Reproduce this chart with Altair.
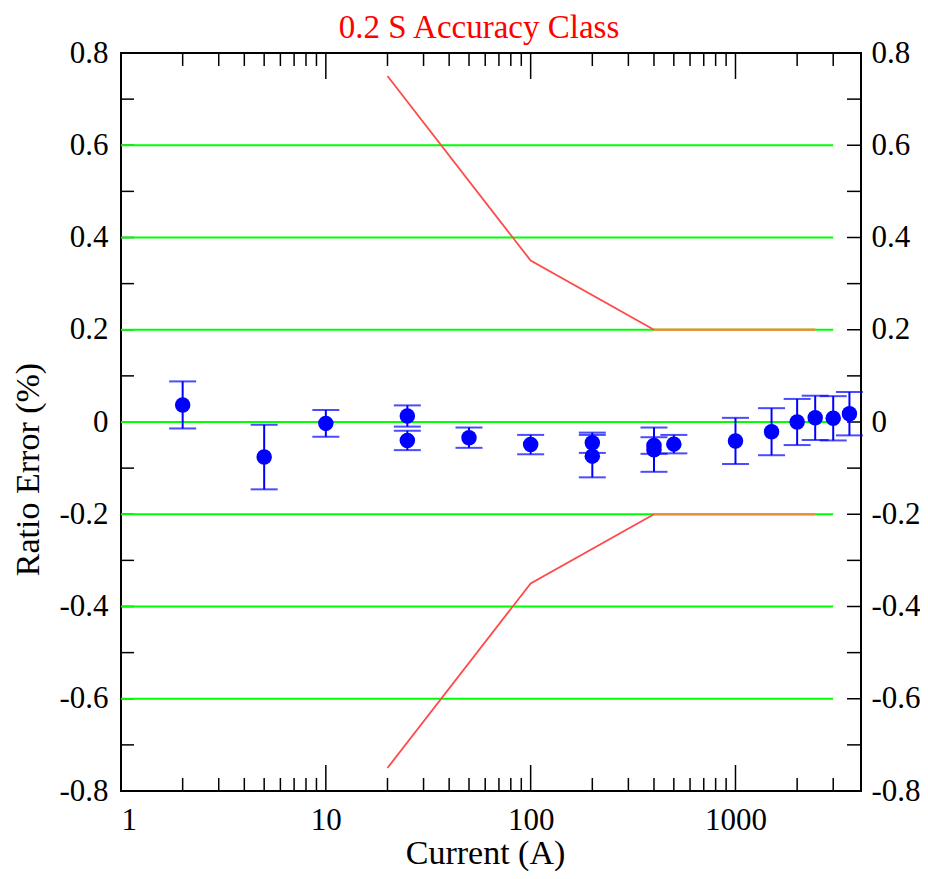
import altair as alt
import pandas as pd

# ---- data ----
chart_title = "0.2 S Accuracy Class"
current = [2, 5, 10, 25, 25, 50, 100, 200, 200, 400, 400, 500, 1000, 1500, 2000, 2450, 3000, 3600]
ratio_err = [0.037, -0.076, -0.003, 0.013, -0.040, -0.034, -0.049, -0.045, -0.074, -0.060, -0.051,
             -0.048, -0.041, -0.021, 0.000, 0.009, 0.008, 0.018]
unc = [0.051, 0.070, 0.029, 0.023, 0.021, 0.022, 0.021, 0.022, 0.046, 0.048, 0.018,
       0.020, 0.050, 0.051, 0.050, 0.048, 0.048, 0.047]

green_levels = [-0.6, -0.4, -0.2, 0.0, 0.2, 0.4, 0.6]
green_x = [1, 3000]

limit_x = [20, 100, 400]
limit_upper = [0.75, 0.35, 0.2]
limit_lower = [-0.75, -0.35, -0.2]
flat_x = [400, 2450]
flat_levels = [0.2, -0.2]

y_tick_labels = [-0.8, -0.6, -0.4, -0.2, 0.0, 0.2, 0.4, 0.6, 0.8]
y_minor = [-0.7, -0.6, -0.5, -0.4, -0.3, -0.2, -0.1, 0.0, 0.1, 0.2, 0.3, 0.4, 0.5, 0.6, 0.7]
x_tick_labels = [1, 10, 100, 1000]
x_minor = [2, 3, 4, 5, 6, 7, 8, 9, 20, 30, 40, 50, 60, 70, 80, 90,
           200, 300, 400, 500, 600, 700, 800, 900, 2000, 3000]

W, H = 740, 738
FONT = "Liberation Serif"

pts = pd.DataFrame({"x": current, "y": ratio_err, "e": unc})
pts["lo"] = pts["y"] - pts["e"]
pts["hi"] = pts["y"] + pts["e"]

green = pd.DataFrame({"y": green_levels, "x": green_x[0], "x2": green_x[1]})
limits = pd.DataFrame({
    "x": limit_x + limit_x,
    "y": limit_upper + limit_lower,
    "g": ["u"] * len(limit_x) + ["l"] * len(limit_x),
})
flat = pd.DataFrame({"y": flat_levels, "x": flat_x[0], "x2": flat_x[1]})

xmaj = pd.DataFrame({"x": x_tick_labels[1:]})
xmin = pd.DataFrame({"x": x_minor})
ymin = pd.DataFrame({"y": y_minor})

xs = alt.Scale(type="log", domain=[1, 4100], nice=False)
ys = alt.Scale(domain=[-0.8, 0.8], nice=False, zero=False)

X_AX = alt.Axis(
    values=x_tick_labels, format="d", ticks=False, tickSize=0, domain=False, grid=False,
    labelFont=FONT, labelFontSize=31, labelColor="black", labelPadding=14,
    title="Current (A)", titleFont=FONT, titleFontSize=34, titleFontWeight="normal",
    titleColor="black", titleX=364, titleY=72, titleBaseline="alphabetic", titleAlign="center",
)
Y_AX = alt.Axis(
    values=y_tick_labels, labelExpr="toString(round(datum.value*10)/10)",
    ticks=False, tickSize=0, domain=False, grid=False,
    labelFont=FONT, labelFontSize=31, labelColor="black", labelPadding=13,
    title="Ratio  Error (%)", titleFont=FONT, titleFontSize=34, titleFontWeight="normal",
    titleColor="black", titleX=-93, titleY=416, titleBaseline="middle", titleAlign="center",
)

def X(field="x"):
    return alt.X(f"{field}:Q", scale=xs, axis=X_AX)

def Y(field="y"):
    return alt.Y(f"{field}:Q", scale=ys, axis=Y_AX)

# ticks (inward, all four sides)
t_bot_maj = alt.Chart(xmaj).mark_rule(color="black", strokeWidth=1.5).encode(
    x=X(), y=alt.value(H), y2=alt.value(H - 26))
t_top_maj = alt.Chart(xmaj).mark_rule(color="black", strokeWidth=1.5).encode(
    x=X(), y=alt.value(0), y2=alt.value(26))
t_bot_min = alt.Chart(xmin).mark_rule(color="black", strokeWidth=1.5).encode(
    x=X(), y=alt.value(H), y2=alt.value(H - 13))
t_top_min = alt.Chart(xmin).mark_rule(color="black", strokeWidth=1.5).encode(
    x=X(), y=alt.value(0), y2=alt.value(13))
t_left = alt.Chart(ymin).mark_rule(color="black", strokeWidth=1.5).encode(
    y=Y(), x=alt.value(0), x2=alt.value(13))
t_right = alt.Chart(ymin).mark_rule(color="black", strokeWidth=1.5).encode(
    y=Y(), x=alt.value(W), x2=alt.value(W - 14))

green_l = alt.Chart(green).mark_rule(color="#00FF00", strokeWidth=2).encode(
    x=X(), x2="x2:Q", y=Y())
flat_l = alt.Chart(flat).mark_rule(color="#E8903A", strokeWidth=2.5).encode(
    x=X(), x2="x2:Q", y=Y())
limit_l = alt.Chart(limits).mark_line(color="#FF4A4A", strokeWidth=1.8).encode(
    x=X(), y=Y(), detail="g:N")

err_l = alt.Chart(pts).mark_rule(color="#0000FF", strokeWidth=2).encode(
    x=X(), y=Y("lo"), y2="hi:Q")
cap_lo = alt.Chart(pts).mark_tick(color="#0000FF", orient="horizontal", size=27, thickness=2).encode(
    x=X(), y=Y("lo"))
cap_hi = alt.Chart(pts).mark_tick(color="#0000FF", orient="horizontal", size=27, thickness=2).encode(
    x=X(), y=Y("hi"))
points = alt.Chart(pts).mark_circle(color="#0000FF", size=240, opacity=1).encode(
    x=X(), y=Y())

title_mark = alt.Chart(pd.DataFrame({"t": [chart_title]})).mark_text(
    font=FONT, fontSize=33, color="#FF0000", align="center", baseline="alphabetic",
).encode(text="t:N", x=alt.value(W / 2 - 12), y=alt.value(-15))

main = alt.layer(
    t_bot_maj, t_top_maj, t_bot_min, t_top_min, t_left, t_right,
    green_l, flat_l, limit_l, err_l, cap_lo, cap_hi, points, title_mark,
)

right_axis = alt.Chart(pd.DataFrame({"v": y_tick_labels})).mark_point(opacity=0).encode(
    y=alt.Y("v:Q", scale=ys, axis=alt.Axis(
        orient="right", values=y_tick_labels, labelExpr="toString(round(datum.value*10)/10)",
        ticks=False, tickSize=0, domain=False, grid=False,
        labelFont=FONT, labelFontSize=31, labelColor="black", labelPadding=10, title=None)),
)

chart = alt.layer(main, right_axis).resolve_scale(y="independent").properties(
    width=W, height=H,
    autosize=alt.AutoSizeParams(type="none"),
    padding={"left": 113, "top": 45, "right": 59, "bottom": 80},
).configure_view(stroke="black", strokeWidth=2)

chart.save("out.html", embed_options={"renderer": "svg", "actions": False})
